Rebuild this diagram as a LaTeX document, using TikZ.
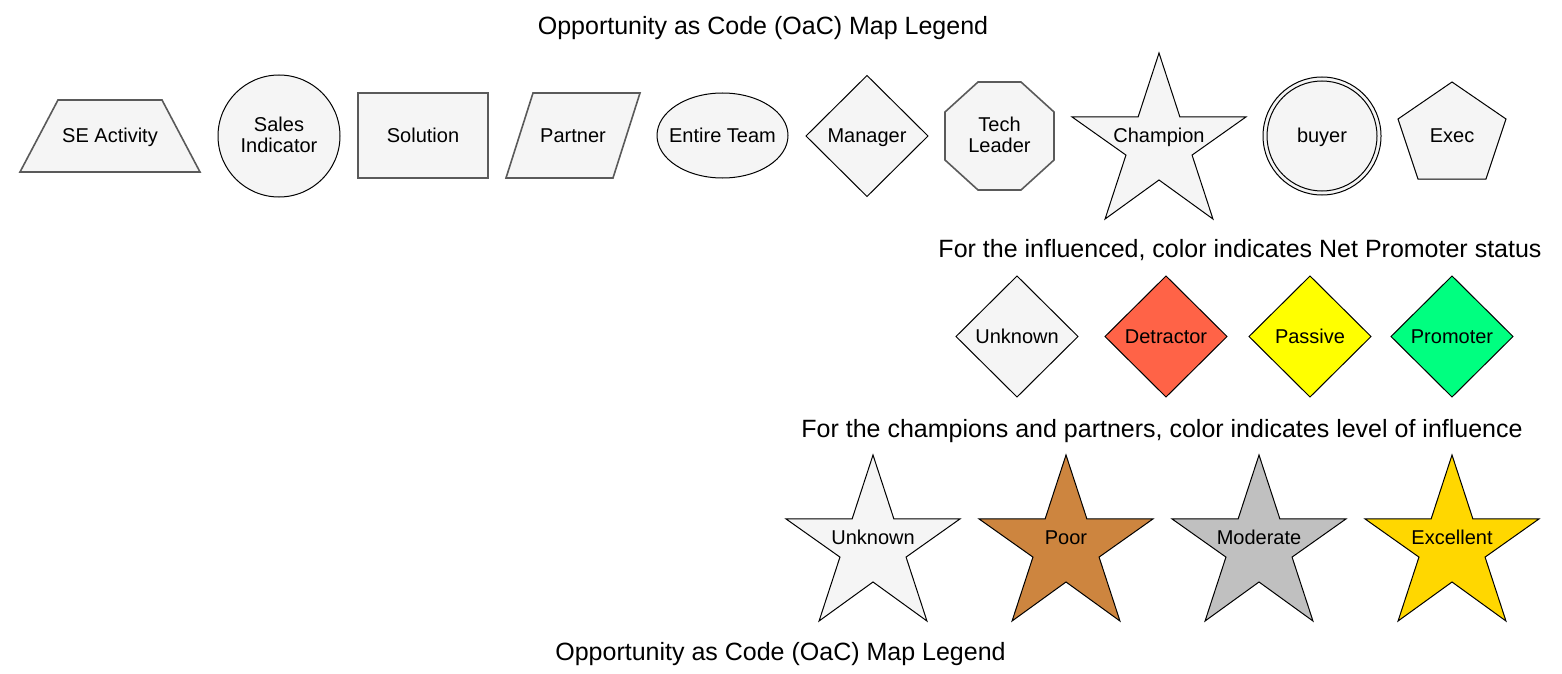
\documentclass[tikz,border=0pt]{standalone}
\usepackage{fontspec}
\setmainfont{Liberation Sans}
\definecolor{shapefill}{HTML}{F5F5F5}
\definecolor{strokegray}{HTML}{5A5A5A}
\definecolor{detractor}{HTML}{FF6347}
\definecolor{passive}{HTML}{FFFF00}
\definecolor{promoter}{HTML}{00FF80}
\definecolor{poor}{HTML}{CD853F}
\definecolor{moderate}{HTML}{C0C0C0}
\definecolor{excellent}{HTML}{FFD700}
\newcommand\legendstar[3]{%
  \draw[shp,fill=#3,shift={(#1,#2)},xscale=174,yscale=166]
    (0.5,0) -- (0.62,0.385) -- (1,0.385) -- (0.69,0.615) -- (0.81,1) --
    (0.5,0.765) -- (0.19,1) -- (0.31,0.615) -- (0,0.385) -- (0.38,0.385) -- cycle;}
\newcommand\legenddiamond[3]{%
  \draw[shp,fill=#3] (#1-61,#2) -- (#1,#2-60.5) -- (#1+61,#2) -- (#1,#2+60.5) -- cycle;}
\begin{document}
\begin{tikzpicture}[x=0.5pt,y=-0.5pt,
  shp/.style={fill=shapefill,draw=black,line width=0.5pt,line join=miter},
  gshp/.style={fill=shapefill,draw=strokegray,line width=0.8pt,line join=miter},
  lbl/.style={font=\fontsize{10}{10}\selectfont,inner sep=0pt,text height=0.85em,text depth=0.2em},
  lbltwo/.style={font=\fontsize{10}{10}\selectfont,inner sep=0pt,align=center,anchor=base},
  hdg/.style={font=\fontsize{12.5}{15}\selectfont,inner sep=0pt,text height=0.85em,text depth=0.2em}]
\useasboundingbox (0,0) rectangle (1562,674);

% headings
\node[hdg] (title) at (763,28) {Opportunity as Code (OaC) Map Legend};
\node[hdg] (influenced) at (1240,251) {For the influenced, color indicates Net Promoter status};
\node[hdg] (champions) at (1162,431) {For the champions and partners, color indicates level of influence};
\node[hdg] (footer) at (780.5,654) {Opportunity as Code (OaC) Map Legend};

% row 1
\draw[gshp] (58,100) -- (162,100) -- (200,172) -- (20,172) -- cycle;
\node[lbl] (seactivity) at (110,136) {SE Activity};

\draw[shp] (279,136) circle[radius=30.5pt];
\node[lbltwo] (sales) at (279,152) {Sales\\Indicator};

\draw[gshp] (358,93) rectangle (488,178);
\node[lbl] (solution) at (423,136) {Solution};

\draw[gshp] (533,93) -- (640,93) -- (613,178) -- (506,178) -- cycle;
\node[lbl] (partner) at (573,136) {Partner};

\draw[shp] (722.5,135.5) ellipse[x radius=32.75pt,y radius=21.25pt];
\node[lbl] (team) at (722.5,136) {Entire Team};

\legenddiamond{867}{136}{shapefill}
\node[lbl] (manager) at (867,136) {Manager};

\draw[gshp] (978,82) -- (1021,82) -- (1054,112) -- (1054,160) -- (1021,190) -- (978,190) -- (945,160) -- (945,112) -- cycle;
\node[lbltwo] (tech) at (999.5,152) {Tech\\Leader};

\legendstar{1072}{53}{shapefill}
\node[lbl] (champion) at (1159,136) {Champion};

\draw[shp] (1322,136) circle[radius=29.5pt];
\draw[shp] (1322,136) circle[radius=27.5pt];
\node[lbl] (buyer) at (1322,136) {buyer};

\draw[shp] (1452,82) -- (1506,119) -- (1486,179) -- (1418,179) -- (1398,119) -- cycle;
\node[lbl] (exec) at (1452,136) {Exec};

% row 2: net promoter
\legenddiamond{1017}{336.5}{shapefill}
\node[lbl] (npunknown) at (1017,336.5) {Unknown};
\legenddiamond{1166}{336.5}{detractor}
\node[lbl] (npdetractor) at (1166,336.5) {Detractor};
\legenddiamond{1310}{336.5}{passive}
\node[lbl] (nppassive) at (1310,336.5) {Passive};
\legenddiamond{1452}{336.5}{promoter}
\node[lbl] (nppromoter) at (1452,336.5) {Promoter};

% row 3: influence
\legendstar{786}{455}{shapefill}
\node[lbl] (infunknown) at (873,538) {Unknown};
\legendstar{979}{455}{poor}
\node[lbl] (infpoor) at (1066,538) {Poor};
\legendstar{1172}{455}{moderate}
\node[lbl] (infmoderate) at (1259,538) {Moderate};
\legendstar{1365}{455}{excellent}
\node[lbl] (infexcellent) at (1452,538) {Excellent};
\end{tikzpicture}
\end{document}
